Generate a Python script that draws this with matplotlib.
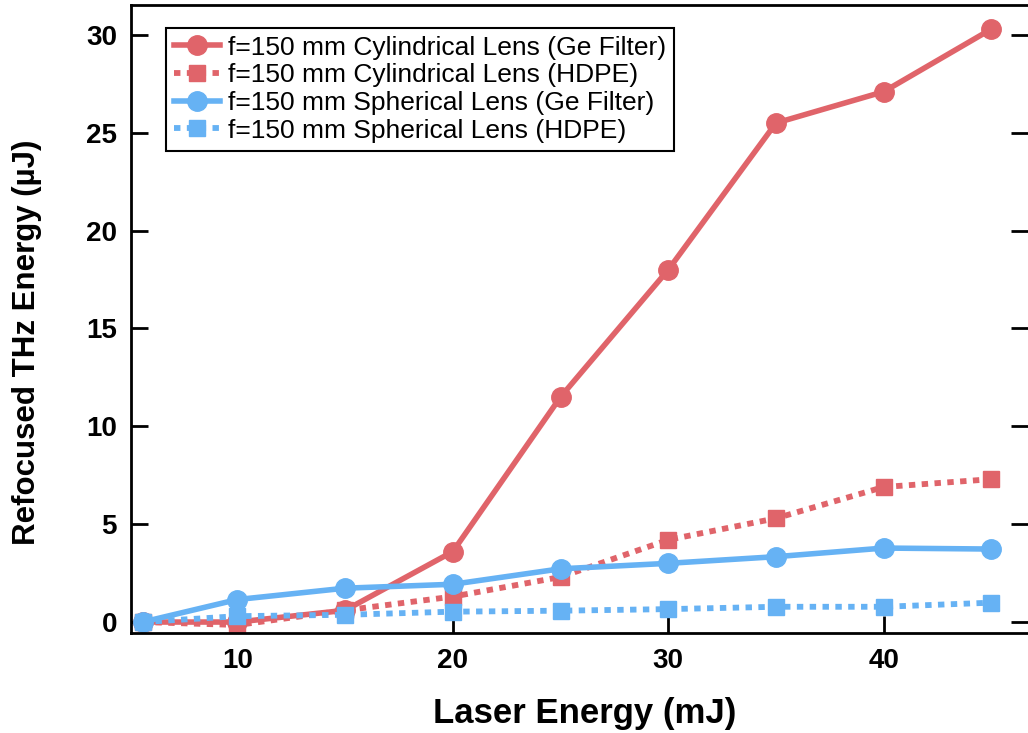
import matplotlib
matplotlib.use('Agg')
import matplotlib.pyplot as plt

# ---------------- DATA ----------------
laser_energy = [5.6, 10, 15, 20, 25, 30, 35, 40, 45]  # mJ

cyl_ge = [0.0, 0.0, 0.6, 3.6, 11.5, 18.0, 25.5, 27.1, 30.3]
cyl_hdpe = [0.0, -0.15, 0.6, 1.3, 2.3, 4.2, 5.3, 6.9, 7.3]
sph_ge = [0.0, 1.15, 1.73, 1.93, 2.72, 3.0, 3.34, 3.78, 3.73]
sph_hdpe = [0.0, 0.3, 0.37, 0.53, 0.58, 0.66, 0.78, 0.78, 0.99]

labels = ['f=150 mm Cylindrical Lens (Ge Filter)',
          'f=150 mm Cylindrical Lens (HDPE)',
          'f=150 mm Spherical Lens (Ge Filter)',
          'f=150 mm Spherical Lens (HDPE)']

x_ticks = [10, 20, 30, 40]
y_ticks = [0, 5, 10, 15, 20, 25, 30]

red = '#E0646A'
blue = '#66B2F4'

plt.rcParams['font.family'] = ['Liberation Sans', 'DejaVu Sans']

# ---------------- FIGURE ----------------
fig = plt.figure(figsize=(10.28, 7.33), dpi=100)
ax = fig.add_axes([131/1028, 1 - 633/733, 1 - 131/1028, (633 - 5)/733])

ax.plot(laser_energy, cyl_ge, color=red, lw=4, marker='o', ms=14, label=labels[0])
ax.plot(laser_energy, cyl_hdpe, color=red, lw=4.2, ls=(0, (1.1, 1.1)), dash_capstyle='butt',
        marker='s', ms=12, label=labels[1])
ax.plot(laser_energy, sph_ge, color=blue, lw=4, marker='o', ms=14, label=labels[2])
ax.plot(laser_energy, sph_hdpe, color=blue, lw=4.2, ls=(0, (1.1, 1.1)), dash_capstyle='butt',
        marker='s', ms=12, label=labels[3])

ax.set_xlim(5.06, 46.7)
ax.set_ylim(-0.56, 31.53)
ax.set_xticks(x_ticks)
ax.set_yticks(y_ticks)

ax.spines['right'].set_visible(False)
for s in ['left', 'bottom', 'top']:
    ax.spines[s].set_linewidth(2)

ax.tick_params(axis='both', direction='in', width=2, length=12, labelsize=20)
ax.tick_params(axis='y', right=True, pad=10)
ax.tick_params(axis='x', pad=11)
for lbl in ax.get_xticklabels() + ax.get_yticklabels():
    lbl.set_fontweight('bold')

ax.set_xlabel('Laser Energy (mJ)', fontsize=25, fontweight='bold')
ax.xaxis.set_label_coords(0.506, -0.102)
ax.set_ylabel('Refocused THz Energy (\u00b5J)', fontsize=22.5, fontweight='bold')
ax.yaxis.set_label_coords(-0.099, 0.463)

leg = ax.legend(loc='upper left', bbox_to_anchor=(0.039, 0.964), fontsize=19,
                fancybox=False, edgecolor='black', framealpha=1, handlelength=1.75,
                labelspacing=0.14, borderpad=0.3, handletextpad=0.3, borderaxespad=0)
leg.get_frame().set_linewidth(1.5)

fig.savefig('out.png', dpi=100)
